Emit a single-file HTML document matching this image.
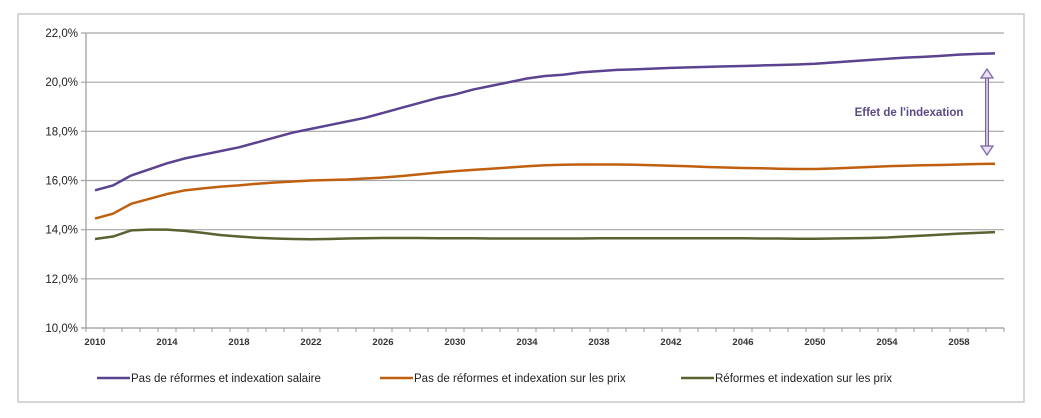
<!DOCTYPE html>
<html><head><meta charset="utf-8"><style>
body{margin:0;background:#fff;font-family:"Liberation Sans",sans-serif}
svg text{font-family:"Liberation Sans",sans-serif}
</style></head><body>
<svg id="c" width="1041" height="413">
<rect x="18" y="14" width="1006" height="388" fill="#fff" stroke="#c8c8c8" stroke-width="1.5"/>
<g id="grid"></g><g id="axes"></g><g id="series"></g>
<g>
<text x="909" y="116" font-size="11.5" font-weight="bold" fill="#5a4a86" text-anchor="middle">Effet de l'indexation</text>
<line x1="987" y1="76" x2="987" y2="148" stroke="#7a62a8" stroke-width="4"/>
<line x1="987" y1="76" x2="987" y2="148" stroke="#e8e0f2" stroke-width="1.5"/>
<path d="M981,78 L987,69 L993,78 Z M981,146 L987,155 L993,146 Z" fill="#e8e0f2" stroke="#7a62a8" stroke-width="1.2"/>
</g>
<g id="legend"></g>
</svg>
<script>
const years=[];for(let y=2010;y<=2060;y++)years.push(y);
const yTicks=[10,12,14,16,18,20,22];
const seriesNames=["Pas de réformes et indexation salaire","Pas de réformes et indexation sur les prix","Réformes et indexation sur les prix"];
const salaire=[15.6,15.8,16.2,16.45,16.7,16.9,17.05,17.2,17.35,17.55,17.75,17.95,18.1,18.25,18.4,18.55,18.75,18.95,19.15,19.35,19.5,19.7,19.85,20.0,20.15,20.25,20.3,20.4,20.45,20.5,20.52,20.55,20.58,20.6,20.62,20.64,20.66,20.68,20.7,20.72,20.75,20.8,20.85,20.9,20.95,21.0,21.03,21.07,21.12,21.15,21.17];
const prix=[14.45,14.65,15.05,15.25,15.45,15.6,15.68,15.75,15.8,15.87,15.92,15.96,16.0,16.02,16.04,16.08,16.12,16.18,16.25,16.32,16.38,16.43,16.48,16.53,16.58,16.62,16.64,16.65,16.65,16.65,16.64,16.62,16.6,16.58,16.55,16.53,16.51,16.5,16.48,16.47,16.47,16.49,16.52,16.55,16.58,16.6,16.62,16.63,16.65,16.67,16.68];
const reformes=[13.62,13.72,13.97,14.0,14.0,13.95,13.87,13.78,13.72,13.67,13.64,13.62,13.61,13.62,13.64,13.65,13.66,13.66,13.66,13.65,13.65,13.65,13.64,13.64,13.64,13.64,13.64,13.64,13.65,13.65,13.65,13.65,13.65,13.65,13.65,13.65,13.65,13.64,13.64,13.63,13.63,13.64,13.65,13.66,13.68,13.72,13.76,13.8,13.84,13.87,13.9];
const NS="http://www.w3.org/2000/svg";
const X0=86,CW=18,Y0=328,YT=33;
const x=i=>X0+CW*i+CW/2;
const y=v=>Y0-(v-10)/12*(Y0-YT);
function mk(t,a,p){const e=document.createElementNS(NS,t);for(const k in a)e.setAttribute(k,a[k]);p.appendChild(e);return e;}
const grid=document.getElementById('grid'),axes=document.getElementById('axes'),ser=document.getElementById('series'),leg=document.getElementById('legend');
const xEnd=X0+CW*years.length;
yTicks.forEach(t=>{
 const l=mk('line',{x1:X0-5,x2:xEnd,y1:y(t),y2:y(t),stroke:t===10?'#999':'#a6a6a6','stroke-width':1.2},grid);
 
 
 const tx=mk('text',{x:X0-8,y:y(t)+4,'font-size':11.5,'text-anchor':'end',fill:'#222'},axes);
 tx.textContent=t.toFixed(1).replace('.',',')+'%';
 
 
});
const ya=mk('line',{x1:X0,x2:X0,y1:YT,y2:Y0,stroke:'#999','stroke-width':1.2},axes);


for(let i=0;i<=years.length;i++){mk('line',{x1:X0+CW*i,x2:X0+CW*i,y1:Y0,y2:Y0+4,stroke:'#999'},axes);}
years.forEach((yr,i)=>{if((yr-2010)%4===0){
 const tx=mk('text',{x:x(i),y:Y0+17,'font-size':9.5,'font-weight':'bold','text-anchor':'middle',fill:'#333'},axes);
 tx.textContent=yr;
 
 
}});
const colors=['#5b4390','#c0600f','#596230'];
[salaire,prix,reformes].forEach((d,s)=>{
 const p=mk('polyline',{points:d.map((v,i)=>x(i)+','+y(v)).join(' '),fill:'none',stroke:colors[s],'stroke-width':2.5,'stroke-linejoin':'round'},ser);
 
 
});
const lx=[97,380,681];
seriesNames.forEach((n,s)=>{
 const g=mk('g',{},leg);
 
 
 mk('line',{x1:lx[s],x2:lx[s]+33,y1:378,y2:378,stroke:colors[s],'stroke-width':2.5},g);
 const t=mk('text',{x:lx[s]+34,y:382,'font-size':11.5,fill:'#222'},g);
 t.textContent=n;
});
</script>
</body></html>
